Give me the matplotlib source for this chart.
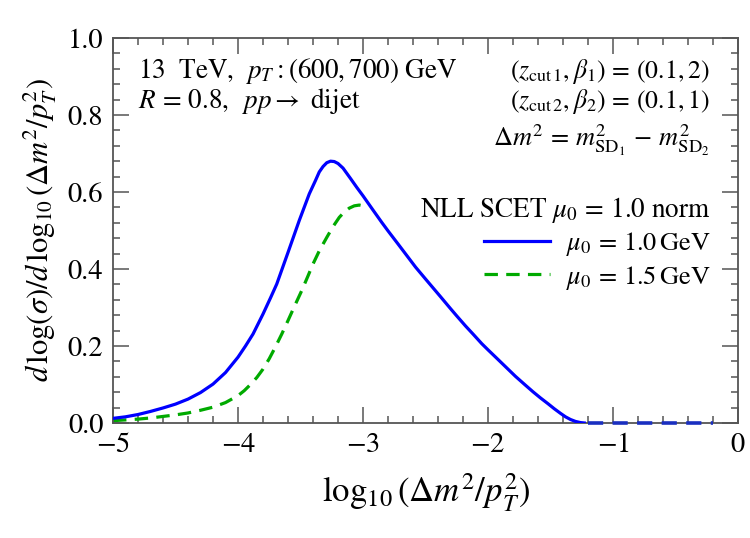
import numpy as np
import matplotlib
matplotlib.use("Agg")
import matplotlib.pyplot as plt

plt.rcParams['font.family'] = 'STIXGeneral'
plt.rcParams['mathtext.fontset'] = 'stix'

# values
x_blue = [-5.0, -4.9, -4.8, -4.7, -4.6, -4.5, -4.4, -4.3, -4.2, -4.1, -4.0,
          -3.94, -3.88, -3.8, -3.74, -3.69, -3.6, -3.51, -3.43, -3.38, -3.35,
          -3.32, -3.29, -3.26, -3.23, -3.2, -3.16, -3.1, -3.05, -3.0, -2.92,
          -2.85, -2.8, -2.72, -2.65, -2.58, -2.5, -2.44, -2.38, -2.3, -2.25,
          -2.18, -2.12, -2.05, -2.0, -1.92, -1.85, -1.78, -1.7, -1.64, -1.58,
          -1.52, -1.47, -1.42, -1.38, -1.34, -1.3, -1.26, -1.23]
y_blue = [0.012, 0.016, 0.022, 0.030, 0.039, 0.049, 0.062, 0.079, 0.101, 0.131,
          0.171, 0.200, 0.231, 0.283, 0.325, 0.361, 0.443, 0.526, 0.595, 0.630,
          0.652, 0.666, 0.676, 0.680, 0.679, 0.674, 0.662, 0.635, 0.612, 0.590,
          0.553, 0.521, 0.499, 0.465, 0.435, 0.405, 0.374, 0.351, 0.328, 0.297,
          0.278, 0.252, 0.231, 0.206, 0.190, 0.165, 0.143, 0.121, 0.098, 0.081,
          0.065, 0.050, 0.037, 0.025, 0.016, 0.009, 0.004, 0.001, 0.0]
x_tail = [-1.2, -0.2]   # zero tail drawn dashed
y_tail = [0.0, 0.0]

x_green = [-5.0, -4.9, -4.8, -4.7, -4.6, -4.5, -4.4, -4.3, -4.2, -4.1, -4.0,
           -3.95, -3.9, -3.85, -3.8, -3.75, -3.7, -3.65, -3.6, -3.55, -3.49,
           -3.44, -3.4, -3.35, -3.29, -3.24, -3.19, -3.15, -3.11, -3.07, -3.03,
           -3.0, -2.97]
y_green = [0.006, 0.008, 0.010, 0.013, 0.017, 0.021, 0.026, 0.033, 0.041, 0.053,
           0.071, 0.084, 0.100, 0.118, 0.140, 0.167, 0.198, 0.231, 0.266, 0.302,
           0.344, 0.382, 0.413, 0.447, 0.482, 0.510, 0.534, 0.548, 0.558, 0.564,
           0.566, 0.564, 0.560]

label_blue = r'$\mu_0\,=\,1.0\,$GeV'
label_green = r'$\mu_0\,=\,1.5\,$GeV'
legend_title = r'NLL SCET $\mu_0\,=\,1.0$ norm'

BLUE = '#0000ff'
GREEN = '#00aa00'
FRAME = '#555555'

fig = plt.figure(figsize=(7.5, 5.38), dpi=100)
ax = fig.add_axes([0.1507, 0.2138, 0.8333, 0.7156])

ax.plot(x_green, y_green, color=GREEN, lw=2.3, ls=(0, (4.2, 2.6)), label=label_green, zorder=2)
ax.plot(x_blue, y_blue, color=BLUE, lw=2.3, label=label_blue, zorder=3)
ax.plot(x_tail, y_tail, color='#1a2fc0', lw=2.6, ls=(0, (4.2, 2.6)), clip_on=False, zorder=4)

ax.set_xlim(-5, 0)
ax.set_ylim(0, 1)
ax.set_xticks(np.arange(-5, 0.1, 1))
ax.set_xticklabels([r'$-5$', r'$-4$', r'$-3$', r'$-2$', r'$-1$', r'$0$'])
ax.set_xticks(np.arange(-5, 0.01, 0.2), minor=True)
ax.set_yticks(np.arange(0, 1.01, 0.2))
ax.set_yticklabels(['0.0', '0.2', '0.4', '0.6', '0.8', '1.0'])
ax.set_yticks(np.arange(0, 1.001, 0.04), minor=True)

for s in ax.spines.values():
    s.set_color(FRAME)
    s.set_linewidth(1.3)
ax.tick_params(which='both', direction='in', top=True, right=True, color=FRAME,
               labelsize=20.5, width=1.1)
ax.tick_params(which='major', length=11.5, pad=7)
ax.tick_params(which='minor', length=5)

ax.set_xlabel(r'$\log_{10}(\Delta m^2/p_T^2)$', fontsize=25, labelpad=10)
ax.set_ylabel(r'$d\,\log(\sigma)/d\,\log_{10}(\Delta m^2/p_T^2)$', fontsize=22, labelpad=6)

ax.text(0.04, 0.895, r'13  TeV,  $p_T:(600,700)$ GeV', transform=ax.transAxes, fontsize=19.5)
ax.text(0.04, 0.817, r'$R\,=\,0.8,\;\;pp\rightarrow$ dijet', transform=ax.transAxes, fontsize=19.5)
ax.text(0.955, 0.895, r'$(z_{\mathrm{cut}\,1},\beta_1)\,=\,(0.1,2)$', transform=ax.transAxes,
        fontsize=18.5, ha='right')
ax.text(0.955, 0.817, r'$(z_{\mathrm{cut}\,2},\beta_2)\,=\,(0.1,1)$', transform=ax.transAxes,
        fontsize=18.5, ha='right')
ax.text(0.955, 0.72, r'$\Delta m^2\,=\,m^2_{\mathrm{SD}_1}\,-\,m^2_{\mathrm{SD}_2}$',
        transform=ax.transAxes, fontsize=19, ha='right')

handles, labels = ax.get_legend_handles_labels()
leg = ax.legend(handles[::-1], labels[::-1], title=legend_title, loc='upper right',
                bbox_to_anchor=(0.985, 0.64), frameon=False, fontsize=19,
                title_fontsize=19.5, handlelength=2.5, handletextpad=0.6,
                labelspacing=0.2, alignment='right', borderpad=0.2)

fig.savefig('out.png', dpi=100)
